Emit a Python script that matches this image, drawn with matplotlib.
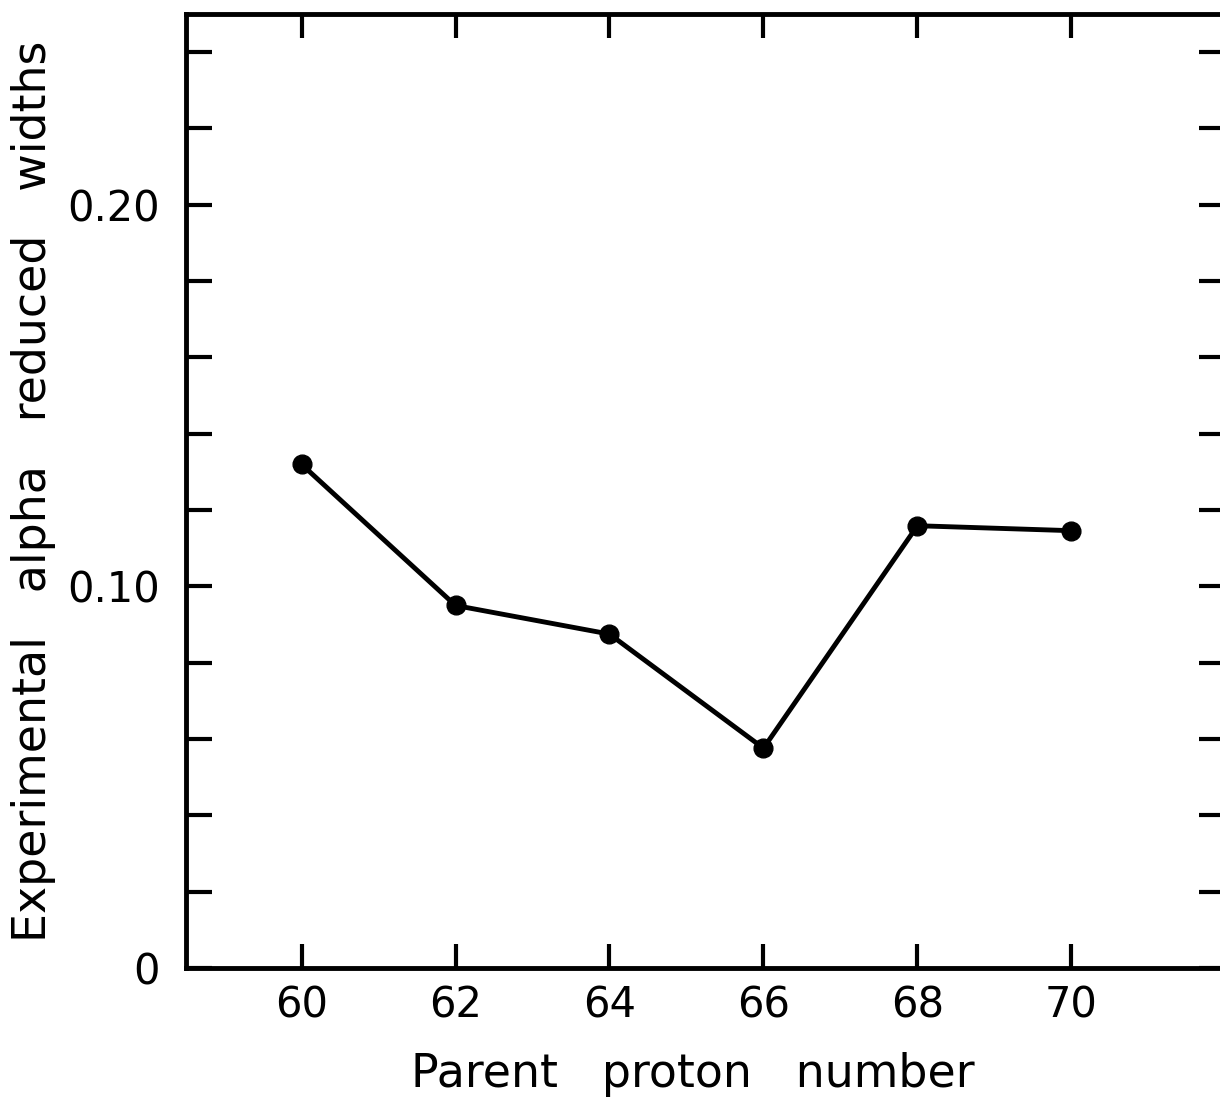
import numpy as np
import matplotlib.pyplot as plt

# reduced widths vs. parent proton number
proton_number = [60, 62, 64, 66, 68, 70]
reduced_width = [0.132, 0.095, 0.0875, 0.0576, 0.1159, 0.1146]

x_ticks = [60, 62, 64, 66, 68, 70]
y_ticks = np.arange(0.02, 0.25, 0.02)
y_labels = {0.0: "0", 0.10: "0.10", 0.20: "0.20"}

plt.rcParams['font.family'] = 'DejaVu Sans'

fig = plt.figure(figsize=(12.2, 11.03), dpi=100)
ax = fig.add_axes([0.1525, 0.1224, 0.8519, 0.8649])

ax.plot(proton_number, reduced_width, color='black', linewidth=3.5,
        marker='o', markersize=13.5, solid_joinstyle='round')

ax.set_xlim(58.5, 72)
ax.set_ylim(0, 0.25)

ax.set_xticks(x_ticks)
ax.set_xticklabels([str(v) for v in x_ticks])

# ticks every 0.02, labels only at 0, 0.10 and 0.20
ticks = [0.0] + list(y_ticks)
ax.set_yticks(ticks)
ax.set_yticklabels([y_labels.get(round(t, 2), "") for t in ticks])

for s in ax.spines.values():
    s.set_linewidth(3.5)

ax.tick_params(axis='both', direction='in', width=3, labelsize=30,
               top=True, right=True)
ax.tick_params(axis='y', length=19, pad=19)
ax.tick_params(axis='x', length=17, pad=12)

ax.set_xlabel("Parent   proton   number", fontsize=33)
ax.xaxis.set_label_coords(0.488, -0.088)
ax.set_ylabel("Experimental   alpha   reduced   widths", fontsize=33,
              labelpad=8)

fig.savefig("out.png", dpi=100)
